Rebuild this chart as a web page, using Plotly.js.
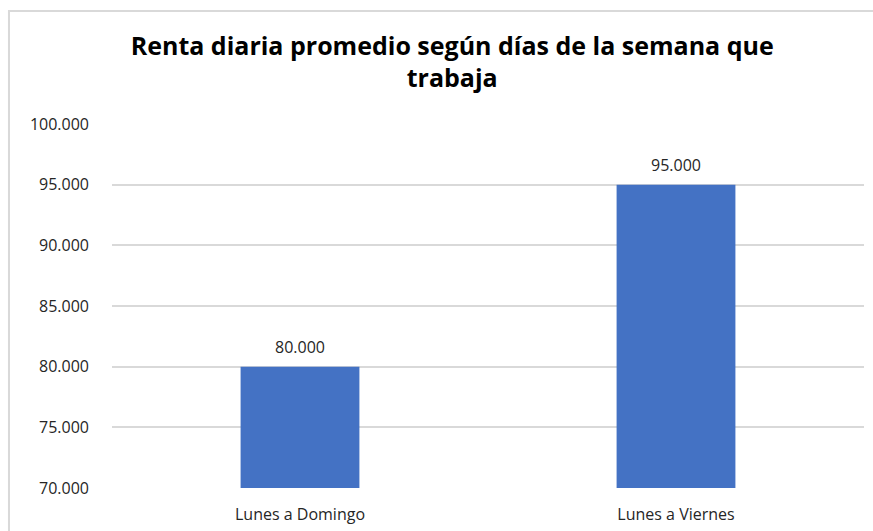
<!DOCTYPE html>
<html>
<head>
<meta charset="utf-8">
<script src="https://cdn.plot.ly/plotly-3.0.1.min.js"></script>
<style>html,body{margin:0;padding:0;background:#fff;}#chart{width:873px;height:531px;}</style>
</head>
<body>
<div id="chart"></div>
<script>
const categories = ["Lunes a Domingo", "Lunes a Viernes"];
const values = [80000, 95000];
const yTickVals = [70000, 75000, 80000, 85000, 90000, 95000, 100000];
const yTickText = ["70.000", "75.000", "80.000", "85.000", "90.000", "95.000", "100.000"];
const titleText = "Renta diaria promedio según días de la semana que<br>trabaja";

const FONT = "Open Sans, Liberation Sans, sans-serif";

const trace = {
  type: "bar",
  x: categories,
  y: values,
  width: 0.316,
  marker: {color: "#4472C4"},
  hoverinfo: "none"
};

const labelAnnotations = categories.map((c, i) => ({
  x: c, y: values[i], xref: "x", yref: "y",
  text: values[i].toLocaleString("de-DE"),
  showarrow: false,
  yanchor: "middle",
  yshift: 20,
  font: {family: FONT, size: 16, color: "#262626"}
}));

const layout = {
  width: 873,
  height: 531,
  separators: ",.",
  paper_bgcolor: "#ffffff",
  plot_bgcolor: "#ffffff",
  margin: {l: 112, r: 9, t: 124, b: 43, pad: 0},
  showlegend: false,
  bargap: 0.684,
  title: {
    text: titleText,
    font: {family: FONT, size: 25, color: "#000000", weight: "bold"},
    x: 0.518, xref: "container", xanchor: "center",
    y: 0.897, yref: "container", yanchor: "top"
  },
  xaxis: {
    type: "category",
    showgrid: false,
    zeroline: false,
    showline: false,
    ticks: "",
    ticklabelstandoff: 15,
    tickfont: {family: FONT, size: 16, color: "#262626"}
  },
  yaxis: {
    range: [70000, 100000],
    tickvals: yTickVals,
    ticktext: yTickText,
    showgrid: true,
    gridcolor: "#d9d9d9",
    gridwidth: 2,
    zeroline: false,
    showline: false,
    ticks: "",
    ticklabelstandoff: 22,
    tickfont: {family: FONT, size: 16, color: "#262626"}
  },
  annotations: labelAnnotations,
  shapes: [{
    type: "rect", xref: "paper", yref: "paper",
    x0: -0.137, x1: 1.2, y0: -0.3, y1: 1.3104,
    line: {color: "#d9d9d9", width: 2},
    fillcolor: "rgba(0,0,0,0)",
    layer: "below"
  }]
};

Plotly.newPlot("chart", [trace], layout, {displayModeBar: false, staticPlot: true});
</script>
</body>
</html>
